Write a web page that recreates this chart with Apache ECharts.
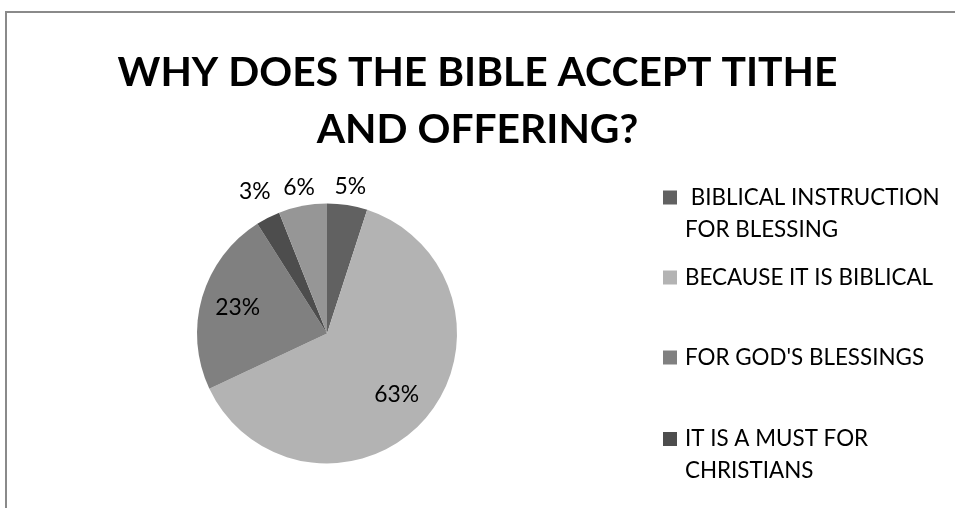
<!DOCTYPE html>
<html>
<head>
<meta charset="utf-8">
<script src="https://cdn.jsdelivr.net/npm/echarts@6/dist/echarts.min.js"></script>
<style>
  html, body { margin: 0; padding: 0; background: #ffffff; }
  #chart { width: 955px; height: 508px; }
</style>
</head>
<body>
<div id="chart"></div>
<script>
// ---- data ----
const titleLines = ['WHY DOES THE BIBLE ACCEPT TITHE', 'AND OFFERING?'];
const categories = [
  'BIBLICAL INSTRUCTION FOR BLESSING',
  'BECAUSE IT IS BIBLICAL',
  "FOR GOD'S BLESSINGS",
  'IT IS A MUST FOR CHRISTIANS',
  'OTHER'
];
const values = [5, 63, 23, 3, 6];
// legend text as displayed (wrapped)
const legendTexts = [
  ' BIBLICAL INSTRUCTION\nFOR BLESSING',
  'BECAUSE IT IS BIBLICAL',
  "FOR GOD'S BLESSINGS",
  'IT IS A MUST FOR\nCHRISTIANS'
];

// ---- styles / layout ----
const colors = ['#616161', '#b3b3b3', '#808080', '#4d4d4d', '#969696'];
const CX = 327, CY = 333.5, R = 130;
const LABEL_DIST = [149, 93, 93, 159, 149];
const FONT = 'Lato';
const LEGEND_LH = 32;
const legendCenters = [197.5, 277.5, 357.5, 439];
const LEGEND_LEFT = 663;
const MARKER = 14;

// fit font sizes to the widths measured on the reference
const mctx = document.createElement('canvas').getContext('2d');
function fitSize(text, weight, target) {
  mctx.font = weight + ' 100px ' + FONT;
  return Math.round(100 * target / mctx.measureText(text).width * 10) / 10;
}
const TITLE_FS = fitSize(titleLines[0], 'bold', 720);
const LEGEND_FS = fitSize('BECAUSE IT IS BIBLICAL', 'normal', 248);
const LABEL_FS = fitSize('63%', 'normal', 45);

const chart = echarts.init(document.getElementById('chart'));

const legends = legendTexts.map((t, i) => {
  const multi = t.indexOf('\n') >= 0;
  const nLines = multi ? 3 : 1;
  return {
    data: [categories[i]],
    orient: 'vertical',
    left: LEGEND_LEFT,
    top: legendCenters[i] - nLines * LEGEND_LH / 2,
    padding: 0,
    itemWidth: MARKER,
    itemHeight: MARKER,
    itemGap: 0,
    icon: 'rect',
    selectedMode: false,
    formatter: () => (multi ? '\n' : '') + t,
    textStyle: {
      fontFamily: FONT,
      fontSize: LEGEND_FS,
      lineHeight: LEGEND_LH,
      color: '#000000',
      padding: [0, 0, 0, 3]
    }
  };
});

chart.setOption({
  animation: false,
  backgroundColor: '#ffffff',
  color: colors,
  graphic: [{
    type: 'rect',
    shape: { x: 6, y: 12, width: 2000, height: 1000 },
    style: { fill: 'none', stroke: '#8a8a8a', lineWidth: 2 },
    silent: true
  }],
  title: {
    text: titleLines.join('\n'),
    left: 'center',
    top: 44,
    padding: [0, 0, 0, 19],
    textStyle: {
      fontFamily: FONT,
      fontWeight: 'bold',
      fontSize: TITLE_FS,
      lineHeight: 57,
      color: '#000000'
    }
  },
  legend: legends,
  series: [{
    type: 'pie',
    center: [CX, CY],
    radius: R,
    startAngle: 90,
    clockwise: true,
    avoidLabelOverlap: false,
    itemStyle: { borderWidth: 0 },
    label: {
      show: true,
      position: 'inside',
      formatter: '{d}%',
      fontFamily: FONT,
      fontSize: LABEL_FS,
      color: '#000000'
    },
    labelLine: { show: false },
    labelLayout: function (p) {
      const r = p.labelRect;
      const lx = r.x + r.width / 2, ly = r.y + r.height / 2;
      const vx = lx - CX, vy = ly - CY;
      const d = Math.hypot(vx, vy) || 1;
      const t = LABEL_DIST[p.dataIndex];
      return { dx: vx / d * (t - d), dy: vy / d * (t - d) };
    },
    data: categories.map((c, i) => ({ name: c, value: values[i] }))
  }]
});
</script>
</body>
</html>
